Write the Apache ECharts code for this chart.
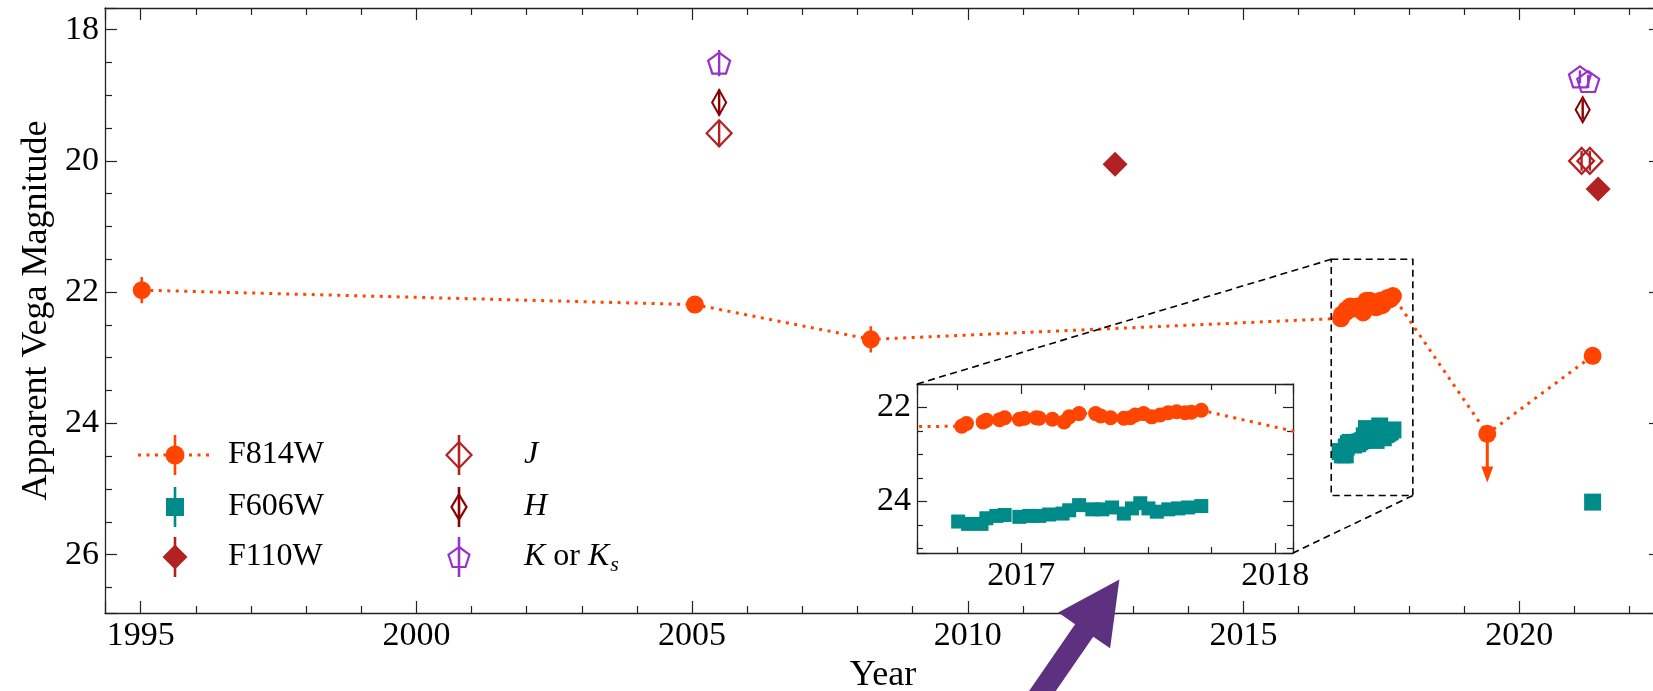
<!DOCTYPE html>
<html><head><meta charset="utf-8">
<script src="https://cdn.jsdelivr.net/npm/echarts@6/dist/echarts.min.js"></script>
<style>html,body{margin:0;padding:0;background:#fff}#c{width:1653px;height:691px}</style>
</head><body><div id="c"></div>
<script>
// ---------------- DATA (year, magnitude, error) ----------------
const f814wEarly = [[1995.02, 21.97, 0.20], [2005.05, 22.19, 0.05], [2008.24, 22.72, 0.20]];
const f814wYears2017 = [2016.766, 2016.785, 2016.850, 2016.863, 2016.915, 2016.935, 2016.993, 2017.013, 2017.059, 2017.071,
  2017.123, 2017.169, 2017.189, 2017.228, 2017.293, 2017.313, 2017.352, 2017.404, 2017.430, 2017.449,
  2017.482, 2017.514, 2017.547, 2017.579, 2017.612, 2017.645, 2017.670, 2017.709];
const f814wMags2017 = [22.40, 22.34, 22.31, 22.27, 22.26, 22.22, 22.25, 22.23, 22.22, 22.23,
  22.25, 22.31, 22.20, 22.13, 22.13, 22.18, 22.22, 22.23, 22.22, 22.16,
  22.13, 22.20, 22.16, 22.11, 22.09, 22.11, 22.10, 22.06];
const f814wErr2017 = 0.03;
const f814wUpperLimit = [[2019.42, 24.16, 0.74]];   // upper limit (arrow length in mag)
const f814wLate = [[2021.33, 22.97, 0.05]];

const f606wYears2017 = [2016.752, 2016.791, 2016.844, 2016.863, 2016.902, 2016.935, 2016.993, 2017.032, 2017.071, 2017.110,
  2017.163, 2017.189, 2017.228, 2017.280, 2017.319, 2017.358, 2017.404, 2017.436, 2017.469, 2017.501,
  2017.534, 2017.579, 2017.618, 2017.657, 2017.709];
const f606wMags2017 = [24.43, 24.48, 24.48, 24.36, 24.31, 24.29, 24.33, 24.31, 24.31, 24.28,
  24.26, 24.19, 24.08, 24.17, 24.17, 24.13, 24.26, 24.15, 24.04, 24.15,
  24.22, 24.17, 24.15, 24.13, 24.10];
const f606wErr2017 = 0.03;
const f606wLate = [[2021.33, 25.20, 0.05]];

const f110w = [[2012.67, 20.05, 0.05], [2021.43, 20.43, 0.05]];
const bandJ = [[2005.49, 19.58, 0.20], [2021.13, 20.00, 0.15], [2021.28, 20.00, 0.15]];
const bandH = [[2005.49, 19.11, 0.20], [2021.15, 19.22, 0.15]];
const bandK = [[2005.49, 18.51, 0.20], [2021.10, 18.72, 0.10], [2021.25, 18.79, 0.10]];

// axis ranges
const mainX = [1994.353, 2022.57], mainY = [17.67, 26.89];
const insetX = [2016.59, 2018.07], insetY = [21.5, 25.1];
const xLabelStep = 5, yLabelStep = 2, insetXStep = 1, insetYStep = 2;

// annotation arrow (main-axis data coordinates)
const arrowTip = [2012.748, 26.378], arrowTail = [2010.99, 28.52];

// ---------------- build ----------------
const f814wAll = f814wEarly
  .concat(f814wYears2017.map((y, i) => [y, f814wMags2017[i], f814wErr2017]))
  .concat(f814wUpperLimit.map(d => [d[0], d[1], 0]))
  .concat(f814wLate);
const f606wAll = f606wYears2017.map((y, i) => [y, f606wMags2017[i], f606wErr2017]).concat(f606wLate);

const FONT = 'Liberation Serif';
const INK = '#222';
const C814 = '#ff4500', C606 = '#008b8b', C110 = '#b22222', CJ = '#b22222', CH = '#8b0000', CK = '#9932cc';
const DOT = [3, 5.5];
const TICKFS = 34, LEGFS = 32, NAMEFS = 36;

function stepFmt(step) {
  return v => { const r = v / step; return Math.abs(r - Math.round(r)) < 1e-6 ? String(Math.round(v)) : ''; };
}
function axis(o) {
  return Object.assign({
    type: 'value', scale: true, splitLine: {show: false}, minorSplitLine: {show: false},
    axisLine: {show: true, onZero: false, lineStyle: {color: INK, width: 1.3}},
    axisTick: {show: true, inside: true, length: o.major, lineStyle: {color: INK, width: 1.2}},
    minorTick: {show: true, splitNumber: o.split, length: o.minor, lineStyle: {color: INK, width: 1.2}},
    axisLabel: o.labels ? {show: true, fontFamily: FONT, fontSize: TICKFS, color: '#000', margin: 6, formatter: stepFmt(o.step),
      showMinLabel: true, showMaxLabel: true, hideOverlap: false} : {show: false},
    minInterval: o.step, maxInterval: o.step, splitNumber: 5, silent: true
  }, o.extra);
}

function errRender(color, w) {
  return function (params, api) {
    const x = api.value(0), y = api.value(1), e = api.value(2);
    const a = api.coord([x, y - e]), b = api.coord([x, y + e]);
    return {type: 'line', shape: {x1: a[0], y1: a[1], x2: b[0], y2: b[1]}, style: {stroke: color, lineWidth: w}};
  };
}
function ulRender(color) {
  return function (params, api) {
    const x = api.value(0), y = api.value(1), len = api.value(2);
    const a = api.coord([x, y]), b = api.coord([x, y + len]);
    const hl = 16, hw = 6;
    return {type: 'group', children: [
      {type: 'line', shape: {x1: a[0], y1: a[1], x2: b[0], y2: b[1] - hl + 1}, style: {stroke: color, lineWidth: 3}},
      {type: 'polygon', shape: {points: [[b[0] - hw, b[1] - hl], [b[0] + hw, b[1] - hl], [b[0], b[1]]]}, style: {fill: color}}
    ]};
  };
}
const PENT = 'path://M0,-1L0.951,-0.309L0.588,0.809L-0.588,0.809L-0.951,-0.309Z';
const open = c => ({color: 'rgba(0,0,0,0)', borderColor: c, borderWidth: 2.2, opacity: 1});
const solid = c => ({color: c, opacity: 1});

const chart = echarts.init(document.getElementById('c'), null, {renderer: 'canvas'});
const option = {
  animation: false,
  backgroundColor: '#fff',
  grid: [
    {left: 105, top: 8, width: 1556, height: 605, show: false, containLabel: false, outerBoundsMode: 'none'},
    {left: 917, top: 384, width: 376, height: 169, show: true, backgroundColor: '#fff', borderWidth: 0, z: 5, containLabel: false, outerBoundsMode: 'none'}
  ],
  xAxis: [
    axis({major: 12, minor: 7, split: 5, step: xLabelStep, labels: true, extra: {gridIndex: 0, position: 'bottom', min: mainX[0], max: mainX[1],
      name: 'Year', nameLocation: 'middle', nameGap: 35, nameTextStyle: {fontFamily: FONT, fontSize: NAMEFS, color: '#000'}}}),
    axis({major: 12, minor: 7, split: 5, step: xLabelStep, labels: false, extra: {gridIndex: 0, position: 'top', min: mainX[0], max: mainX[1]}}),
    axis({major: 10, minor: 6, split: 4, step: insetXStep, labels: true, extra: {gridIndex: 1, position: 'bottom', min: insetX[0], max: insetX[1], z: 6}}),
    axis({major: 10, minor: 6, split: 4, step: insetXStep, labels: false, extra: {gridIndex: 1, position: 'top', min: insetX[0], max: insetX[1], z: 6}})
  ],
  yAxis: [
    axis({major: 12, minor: 7, split: 4, step: yLabelStep, labels: true, extra: {gridIndex: 0, position: 'left', inverse: true, min: mainY[0], max: mainY[1],
      name: 'Apparent Vega Magnitude', nameLocation: 'middle', nameGap: 41, nameRotate: 90, nameTextStyle: {fontFamily: FONT, fontSize: NAMEFS, color: '#000'}}}),
    axis({major: 12, minor: 7, split: 4, step: yLabelStep, labels: false, extra: {gridIndex: 0, position: 'right', inverse: true, min: mainY[0], max: mainY[1]}}),
    axis({major: 10, minor: 6, split: 4, step: insetYStep, labels: true, extra: {gridIndex: 1, position: 'left', inverse: true, min: insetY[0], max: insetY[1], z: 6}}),
    axis({major: 10, minor: 6, split: 4, step: insetYStep, labels: false, extra: {gridIndex: 1, position: 'right', inverse: true, min: insetY[0], max: insetY[1], z: 6}})
  ],
  series: [
    // main panel
    {name: 'F814W', type: 'line', xAxisIndex: 0, yAxisIndex: 0, data: f814wAll.map(d => [d[0], d[1]]), symbol: 'circle', symbolSize: 18,
      lineStyle: {color: C814, width: 3, type: DOT, cap: 'butt'}, itemStyle: solid(C814), silent: true, z: 3},
    {type: 'custom', xAxisIndex: 0, yAxisIndex: 0, data: f814wAll, renderItem: errRender(C814, 2.6), silent: true, z: 3},
    {type: 'custom', xAxisIndex: 0, yAxisIndex: 0, data: f814wUpperLimit, renderItem: ulRender(C814), silent: true, z: 3},
    {name: 'F606W', type: 'scatter', xAxisIndex: 0, yAxisIndex: 0, data: f606wAll.map(d => [d[0], d[1]]), symbol: 'rect', symbolSize: 17,
      itemStyle: solid(C606), silent: true, z: 3},
    {type: 'custom', xAxisIndex: 0, yAxisIndex: 0, data: f606wAll, renderItem: errRender(C606, 2.6), silent: true, z: 3},
    {name: 'F110W', type: 'scatter', xAxisIndex: 0, yAxisIndex: 0, data: f110w.map(d => [d[0], d[1]]), symbol: 'diamond', symbolSize: [25, 25],
      itemStyle: solid(C110), silent: true, z: 3},
    {type: 'custom', xAxisIndex: 0, yAxisIndex: 0, data: f110w, renderItem: errRender(C110, 2.6), silent: true, z: 3},
    {name: 'J', type: 'scatter', xAxisIndex: 0, yAxisIndex: 0, data: bandJ.map(d => [d[0], d[1]]), symbol: 'diamond', symbolSize: [25, 26],
      itemStyle: open(CJ), silent: true, z: 4},
    {type: 'custom', xAxisIndex: 0, yAxisIndex: 0, data: bandJ, renderItem: errRender(CJ, 2.4), silent: true, z: 4},
    {name: 'H', type: 'scatter', xAxisIndex: 0, yAxisIndex: 0, data: bandH.map(d => [d[0], d[1]]), symbol: 'diamond', symbolSize: [14, 25],
      itemStyle: open(CH), silent: true, z: 4},
    {type: 'custom', xAxisIndex: 0, yAxisIndex: 0, data: bandH, renderItem: errRender(CH, 2.4), silent: true, z: 4},
    {name: 'K', type: 'scatter', xAxisIndex: 0, yAxisIndex: 0, data: bandK.map(d => [d[0], d[1]]), symbol: PENT, symbolSize: [22, 21],
      itemStyle: open(CK), silent: true, z: 4},
    {type: 'custom', xAxisIndex: 0, yAxisIndex: 0, data: bandK, renderItem: errRender(CK, 2.4), silent: true, z: 4},
    // inset panel
    {type: 'line', xAxisIndex: 2, yAxisIndex: 2, data: f814wAll.map(d => [d[0], d[1]]), symbol: 'circle', symbolSize: 15, clip: true,
      lineStyle: {color: C814, width: 3, type: DOT, cap: 'butt'}, itemStyle: solid(C814), silent: true, z: 7},
    {type: 'scatter', xAxisIndex: 2, yAxisIndex: 2, data: f606wAll.map(d => [d[0], d[1]]), symbol: 'rect', symbolSize: 14, clip: true,
      itemStyle: solid(C606), silent: true, z: 7}
  ]
};
chart.setOption(option);

// ---------------- overlays: zoom box, connectors, arrow, legend ----------------
const MAIN = {seriesIndex: 0}, INSET = {seriesIndex: 13};
const p = (f, v) => chart.convertToPixel(f, v);
const r0 = p(MAIN, [insetX[0], insetY[0]]), r1 = p(MAIN, [insetX[1], insetY[1]]);
const i0 = p(INSET, [insetX[0], insetY[0]]), i1 = p(INSET, [insetX[1], insetY[1]]);
const dashStyle = {stroke: '#000', lineWidth: 1.6, lineDash: [7, 4.5], fill: null};

// arrow
const T = p(MAIN, arrowTip), S = p(MAIN, arrowTail);
let dx = T[0] - S[0], dy = T[1] - S[1]; const L = Math.hypot(dx, dy); dx /= L; dy /= L;
const nx = -dy, ny = dx, HL = 62, HW = 31.5, SW = 11;
const B = [T[0] - dx * HL, T[1] - dy * HL];
const arrowPts = [T, [B[0] + nx * HW, B[1] + ny * HW], [B[0] + nx * SW, B[1] + ny * SW], [S[0] + nx * SW, S[1] + ny * SW],
  [S[0] - nx * SW, S[1] - ny * SW], [B[0] - nx * SW, B[1] - ny * SW], [B[0] - nx * HW, B[1] - ny * HW]];

// legend
const LG = [];
const rows = [455, 507, 557], c1 = 175, c2 = 459, t1 = 228, t2 = 524;
const LFONT = "'" + FONT + "'";
function bar(x, y, c) { LG.push({type: 'line', shape: {x1: x, y1: y - 20, x2: x, y2: y + 20}, style: {stroke: c, lineWidth: 2.6}, z: 20}); }
function diamondPts(x, y, w, h) { return [[x, y - h / 2], [x + w / 2, y], [x, y + h / 2], [x - w / 2, y]]; }
function pentPts(x, y, w, h) {
  const raw = [[0, -1], [0.951, -0.309], [0.588, 0.809], [-0.588, 0.809], [-0.951, -0.309]];
  return raw.map(q => [x + q[0] * w / 1.902, y + (q[1] + 0.0955) * h / 1.809]);
}
function label(x, y, txt, italic) {
  LG.push({type: 'text', x: x, y: y, z: 20, style: {text: txt, fill: '#000', font: (italic ? 'italic ' : '') + LEGFS + 'px ' + LFONT,
    verticalAlign: 'middle', align: 'left'}});
}
// F814W
LG.push({type: 'line', shape: {x1: 138, y1: rows[0], x2: 211, y2: rows[0]}, style: {stroke: C814, lineWidth: 3, lineDash: DOT}, z: 20});
bar(c1, rows[0], C814);
LG.push({type: 'circle', shape: {cx: c1, cy: rows[0], r: 9.5}, style: {fill: C814}, z: 21});
label(t1, rows[0], 'F814W');
// F606W
bar(c1, rows[1], C606);
LG.push({type: 'rect', shape: {x: c1 - 9, y: rows[1] - 9, width: 18, height: 18}, style: {fill: C606}, z: 21});
label(t1, rows[1], 'F606W');
// F110W
bar(c1, rows[2], C110);
LG.push({type: 'polygon', shape: {points: diamondPts(c1, rows[2], 25, 25)}, style: {fill: C110}, z: 21});
label(t1, rows[2], 'F110W');
// J
bar(c2, rows[0], CJ);
LG.push({type: 'polygon', shape: {points: diamondPts(c2, rows[0], 25, 26)}, style: {fill: null, stroke: CJ, lineWidth: 2.2}, z: 21});
label(t2, rows[0], 'J', true);
// H
bar(c2, rows[1], CH);
LG.push({type: 'polygon', shape: {points: diamondPts(c2, rows[1], 15, 25)}, style: {fill: null, stroke: CH, lineWidth: 2.2}, z: 21});
label(t2, rows[1], 'H', true);
// K
bar(c2, rows[2], CK);
LG.push({type: 'polygon', shape: {points: pentPts(c2, rows[2], 21, 20)}, style: {fill: null, stroke: CK, lineWidth: 2.2}, z: 21});
LG.push({type: 'text', x: t2, y: rows[2], z: 20, style: {text: '{i|K} {r|or} {i|K}{s|s}', fill: '#000', font: LEGFS + 'px ' + LFONT,
  verticalAlign: 'middle', align: 'left',
  rich: {i: {font: 'italic ' + LEGFS + 'px ' + LFONT, fill: '#000'},
         r: {font: LEGFS + 'px ' + LFONT, fill: '#000'},
         s: {font: 'italic 22px ' + LFONT, fill: '#000', padding: [16, 0, 0, 1]}}}});

chart.setOption({graphic: [
  {type: 'rect', shape: {x: r0[0], y: r0[1], width: r1[0] - r0[0], height: r1[1] - r0[1]}, style: dashStyle, z: 10, silent: true},
  {type: 'line', shape: {x1: r0[0], y1: r0[1], x2: i0[0], y2: i0[1]}, style: dashStyle, z: 10, silent: true},
  {type: 'line', shape: {x1: r1[0], y1: r1[1], x2: i1[0], y2: i1[1]}, style: dashStyle, z: 10, silent: true},
  {type: 'polygon', shape: {points: arrowPts}, style: {fill: '#5d3180'}, z: 30, silent: true}
].concat(LG)});
</script></body></html>
